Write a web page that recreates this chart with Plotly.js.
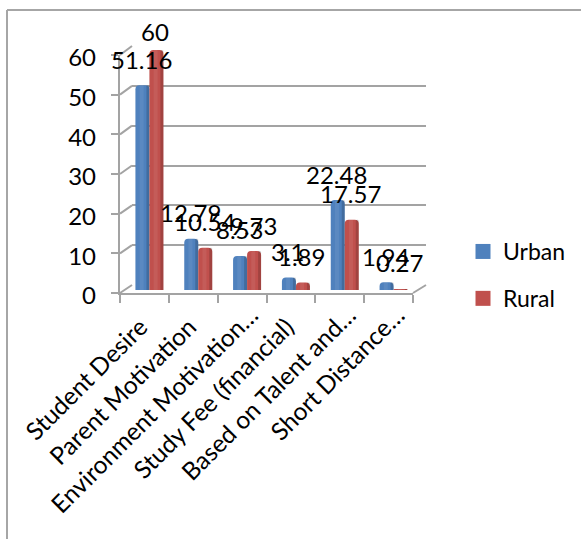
<!DOCTYPE html>
<html>
<head>
<meta charset="utf-8">
<script src="https://cdn.plot.ly/plotly-3.0.1.min.js"></script>
<style>html,body{margin:0;padding:0;background:#fff}</style>
</head>
<body>
<div id="chart" style="width:581px;height:539px"></div>
<script>
const categories = ["Student Desire","Parent Motivation","Environment Motivation…","Study Fee (financial)","Based on Talent and…","Short Distance…"];
const urban = [51.16,12.79,8.53,3.1,22.48,1.94];
const rural = [60,10.54,9.73,1.89,17.57,0.27];
const yTicks = [0,10,20,30,40,50,60];

const W = 581, H = 539;
const px = v => v / W, py = v => 1 - v / H;
const font = "Lato, 'Open Sans', sans-serif";
const grey = "#a3a3a3", ink = "#000000";
const blue = "#4f81bd", red = "#c0504d";

// pixel boxes of the pseudo-3D frame
const front = {l:120, r:413, b:293, t:55};
const back  = {l:132, r:426, b:285, t:46};
const bars  = {l:125, r:418, b:290, t:50};
const labelsWhole = {l:116, r:409, b:296, t:58};   // y tick labels and complete category labels
const labelsCut   = {l:129, r:422, b:285, t:47};   // truncated labels sit further up the slope

const domX = b => [px(b.l), px(b.r)];
const domY = b => [py(b.b), py(b.t)];
const catW = (bars.r - bars.l) / categories.length;
const barW = 14 / catW;
const truncated = categories.filter(c => c.endsWith("…"));
const whole = categories.filter(c => !c.endsWith("…"));

function barTrace(name, values, color, offset){
  return {type:"bar", name, x:categories, y:values, xaxis:"x3", yaxis:"y3",
    width:barW, offset, showlegend:false,
    marker:{color, line:{width:0}, cornerradius:4}, hoverinfo:"skip"};
}
function shade(values, offset, w, alpha){
  return {type:"bar", x:categories, y:values, xaxis:"x3", yaxis:"y3",
    width:w, offset, showlegend:false,
    marker:{color:alpha, line:{width:0}, cornerradius:1}, hoverinfo:"skip"};
}
function legendKey(name, color){
  return {type:"scatter", mode:"markers", name, x:[null], y:[null], xaxis:"x3", yaxis:"y3", legendgroup:name,
    marker:{symbol:"square", size:15, color, line:{width:0}}, hoverinfo:"skip"};
}
const blank = (xa, ya) => ({type:"scatter", mode:"none", x:categories, y:urban, xaxis:xa, yaxis:ya, showlegend:false, hoverinfo:"skip"});
const edge = 3 / catW, glow = 4 / catW;
const traces = [
  blank("x","y"),
  blank("x2","y2"),
  blank("x4","y4"),
  blank("x5","y5"),
  barTrace("Urban", urban, blue, -barW),
  barTrace("Rural", rural, red, 0),
  shade(urban, -edge, edge, "rgba(0,0,0,0.16)"),
  shade(rural, barW - edge, edge, "rgba(0,0,0,0.16)"),
  shade(urban, -barW + barW*0.3, glow, "rgba(255,255,255,0.07)"),
  shade(rural, barW*0.3, glow, "rgba(255,255,255,0.07)"),
  legendKey("Urban", blue),
  legendKey("Rural", red)
];

const annotations = [];
const yMax = Math.max(...urban, ...rural);
function addLabels(values, xshift){
  values.forEach((v,i)=>annotations.push({
    xref:"x3", yref:"y3", x:categories[i], y:v, text:String(v), showarrow:false,
    xshift, yshift: v === yMax ? 18 : 26, xanchor:"center", yanchor:"middle",
    font:{family:font, size:24, color:ink}
  }));
}
addLabels(urban, -8);
addLabels(rural, 6);

const line = c => ({color:c, width:2});
const shapes = [
  {type:"line", xref:"paper", yref:"paper", x0:px(7), y0:py(10), x1:px(581), y1:py(10), line:{color:"#a6a6a6", width:2}},
  {type:"line", xref:"paper", yref:"paper", x0:px(7), y0:py(10), x1:px(7), y1:py(539), line:{color:"#a6a6a6", width:2}},
  {type:"line", xref:"paper", yref:"paper", x0:px(front.r), y0:py(front.b), x1:px(back.r), y1:py(back.b), line:line(grey)}
];
yTicks.forEach(t=>{
  const f = front.b + (front.t-front.b)*t/60, b = back.b + (back.t-back.b)*t/60;
  shapes.push({type:"line", xref:"paper", yref:"paper", x0:px(front.l), y0:py(f), x1:px(back.l), y1:py(b), line:line(grey)});
});

const catAxis = {type:"category", categoryorder:"array", categoryarray:categories, range:[-0.5,5.5], fixedrange:true, showgrid:false, automargin:false};
const hiddenX = Object.assign({}, catAxis, {visible:false});
const hiddenY = {range:[0,60], visible:false, fixedrange:true};
const catFont = {family:font, size:24.5, color:ink};

const layout = {
  width:W, height:H, margin:{l:0,r:0,t:0,b:0,pad:0},
  paper_bgcolor:"#ffffff", plot_bgcolor:"rgba(0,0,0,0)",
  barmode:"overlay", showlegend:true,
  font:{family:font, color:ink},
  // back wall gridlines
  xaxis:Object.assign({}, hiddenX, {domain:domX(back), anchor:"y"}),
  yaxis:{domain:domY(back), anchor:"x", range:[0,60], tickvals:yTicks, showgrid:true, gridcolor:grey, gridwidth:2,
         showticklabels:false, ticks:"", zeroline:false, showline:false, fixedrange:true},
  // front edge: lines and ticks
  xaxis2:Object.assign({}, catAxis, {domain:domX(front), anchor:"y2", tickson:"boundaries", ticks:"outside", ticklen:8, tickwidth:2,
          tickcolor:grey, showline:true, linecolor:grey, linewidth:2, showticklabels:false}),
  yaxis2:{domain:domY(front), anchor:"x2", range:[0,60], tickvals:yTicks, ticks:"outside", ticklen:7, tickwidth:2, tickcolor:grey,
          showline:true, linecolor:grey, linewidth:2, showgrid:false, zeroline:false, showticklabels:false, fixedrange:true, automargin:false},
  // bars, set into the depth of the box
  xaxis3:Object.assign({}, hiddenX, {domain:domX(bars), anchor:"y3"}),
  yaxis3:Object.assign({}, hiddenY, {domain:domY(bars), anchor:"x3"}),
  // truncated labels
  xaxis4:Object.assign({}, catAxis, {domain:domX(labelsCut), anchor:"y4", tickmode:"array", tickvals:truncated, ticktext:truncated,
          ticks:"", showline:false, tickangle:-45, tickfont:catFont, ticklabelstandoff:10}),
  yaxis4:Object.assign({}, hiddenY, {domain:domY(labelsCut), anchor:"x4"}),
  // y tick labels and complete labels
  xaxis5:Object.assign({}, catAxis, {domain:domX(labelsWhole), anchor:"y5", tickmode:"array", tickvals:whole, ticktext:whole,
          ticks:"", showline:false, tickangle:-45, tickfont:catFont, ticklabelstandoff:11}),
  yaxis5:{domain:domY(labelsWhole), anchor:"x5", range:[0,60], tickvals:yTicks, ticks:"", showline:false, showgrid:false, zeroline:false,
          ticklabelstandoff:19, tickfont:{family:font, size:24, color:ink}, fixedrange:true, automargin:false},
  legend:{x:px(463), y:py(230), xanchor:"left", yanchor:"top", tracegroupgap:14, itemsizing:"trace", itemclick:false, itemdoubleclick:false,
          bgcolor:"rgba(0,0,0,0)", font:{family:font, size:23, color:ink}},
  annotations, shapes
};
Plotly.newPlot("chart", traces, layout, {displayModeBar:false, staticPlot:true});
</script>
</body>
</html>
